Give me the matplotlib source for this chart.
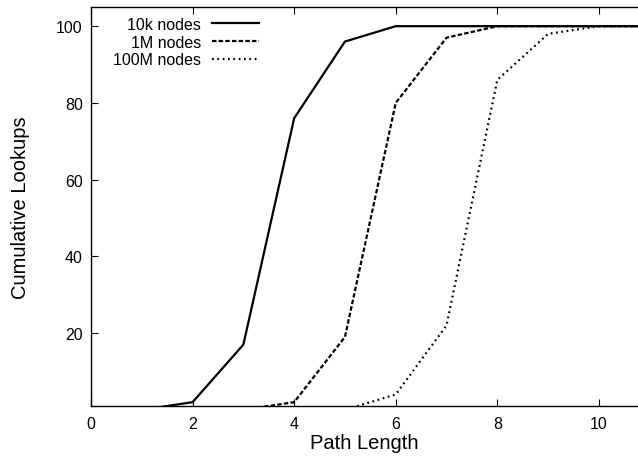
import matplotlib
matplotlib.use("Agg")
import matplotlib.pyplot as plt

path_length = [0, 1, 2, 3, 4, 5, 6, 7, 8, 9, 10, 11, 12]
nodes_10k = [0, 0, 2, 17, 76, 96, 100, 100, 100, 100, 100, 100, 100]
nodes_1m = [0, 0, 0, 0, 2, 19, 80, 97, 100, 100, 100, 100, 100]
nodes_100m = [0, 0, 0, 0, 0, 0, 4, 22, 86, 98, 100, 100, 100]
labels = ["10k nodes", "1M nodes", "100M nodes"]
xticks = [0, 2, 4, 6, 8, 10]
yticks = [20, 40, 60, 80, 100]

plt.rcParams['font.family'] = ['Liberation Sans', 'DejaVu Sans']

fig = plt.figure(figsize=(6.38, 4.6), dpi=100)
ax = fig.add_axes([91/638, 53/460, 1 - 91/638, (407-8)/460])

ax.plot(path_length, nodes_10k, color='black', lw=1.6, linestyle='-', label=labels[0])
ax.plot(path_length, nodes_1m, color='black', lw=1.6, linestyle=(0, (2.0, 1.0)), label=labels[1])
ax.plot(path_length, nodes_100m, color='black', lw=1.6, linestyle=(0, (0.8, 1.6)), label=labels[2])

ax.set_xlim(0, 10.77)
ax.set_ylim(1, 105)
ax.set_xticks(xticks)
ax.set_yticks(yticks)
ax.tick_params(direction='in', length=5, width=0.8, labelsize=11.5, top=True, right=False, pad=6)
ax.tick_params(axis='x', pad=7)
ax.spines['right'].set_visible(False)
for s in ['left', 'bottom', 'top']:
    ax.spines[s].set_linewidth(1.0)

ax.set_xlabel("Path Length", fontsize=14.5, labelpad=2)
ax.set_ylabel("Cumulative Lookups", fontsize=14.5, labelpad=19)

leg = ax.legend(loc='upper right', bbox_to_anchor=(0.327, 1.003), frameon=False,
                markerfirst=False, fontsize=11.5, handlelength=2.9, handletextpad=0.7,
                labelspacing=0.16, borderaxespad=0.3)

fig.savefig("out.png", dpi=100)
